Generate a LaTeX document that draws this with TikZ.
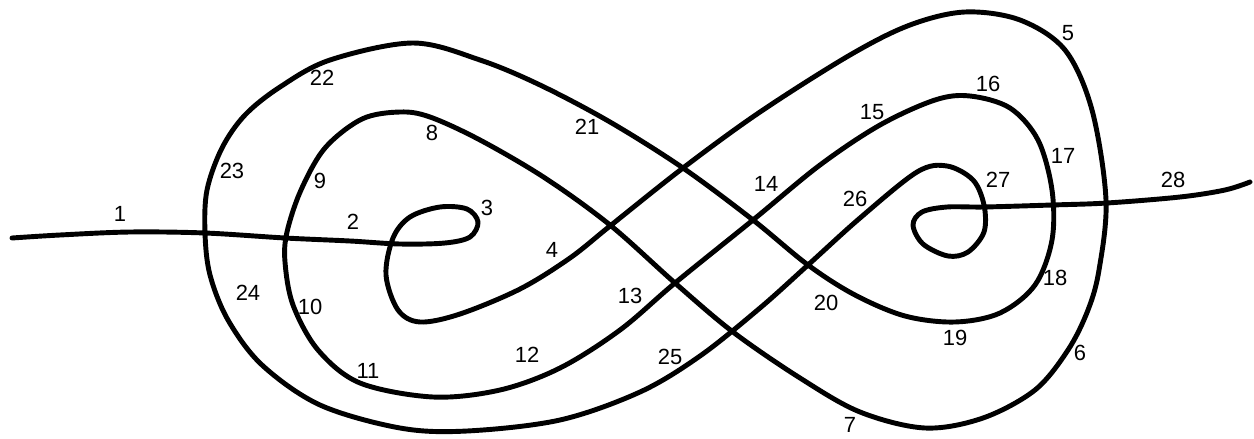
\documentclass[tikz,border=0pt]{standalone}
\usepackage{fontspec}
\setmainfont{Liberation Sans}
\begin{document}
\begin{tikzpicture}[x=0.02cm,y=-0.02cm,font=\fontsize{12.5}{14}\selectfont,
  strand/.style={line width=2.8pt,line cap=round,line join=round},
  num/.style={inner sep=1pt}]
\useasboundingbox (0,0) rectangle (1254,439);
% one strand, left end to right end
\draw[strand] plot[smooth,tension=0.55] coordinates {
  (12,238) (60,235) (130,232) (205,233) (285,238) (350,241) (400,244) (445,243)
  (470,237) (478,222) (467,209) (440,207) (410,217) (393,238) (386,275) (398,310)
  (420,322) (460,314) (520,289) (570,258) (610,226)
  (683,168) (760,112) (850,55) (910,25) (965,12) (1020,20) (1065,50) (1092,110)
  (1106,200) (1099,270) (1088,310) (1068,350) (1035,390) (983,418) (925,428)
  (860,412) (800,378) (733,332) (675,283) (610,225)
  (545,178) (480,140) (430,117) (400,112) (362,119) (325,148) (301,190) (287,232)
  (285,262) (293,305) (318,350) (360,383) (433,397) (500,390) (560,368) (620,330)
  (675,283) (753,220) (820,165) (880,125) (935,100) (970,96) (1010,108) (1038,140)
  (1052,190) (1052,240) (1035,285) (1000,313) (955,322) (905,316) (855,295) (808,265)
  (753,220) (683,168) (610,122) (540,85) (480,60) (413,43) (330,60)
  (280,87) (245,115) (222,148) (207,190) (205,233) (210,275) (228,320) (262,365)
  (320,405) (400,428) (467,431) (560,420) (640,392) (700,356) (760,308)
  (808,265) (860,218) (917,172) (947,166) (973,180) (984,205) (984,232) (968,252)
  (948,256) (923,244) (913,225) (922,212) (947,207) (984,207) (1052,205) (1107,203)
  (1180,197) (1225,190) (1250,182)};
% crossing numbers
\foreach \n/\px/\py in {1/120/214, 2/353/222, 3/487/208, 4/552/250, 5/1068/33,
  6/1080/353, 7/850/425, 8/432/133, 9/320/181, 10/310/307, 11/368/371,
  12/527/355, 13/630/296, 14/766/184, 15/872/112, 16/988/84, 17/1063/156,
  18/1055/278, 19/955/338, 20/826/303, 21/587/127, 22/322/78, 23/232/171,
  24/248/293, 25/670/357, 26/855/199, 27/998/180, 28/1173/180}
  \node[num] (c\n) at (\px,\py) {\n};
\end{tikzpicture}
\end{document}
